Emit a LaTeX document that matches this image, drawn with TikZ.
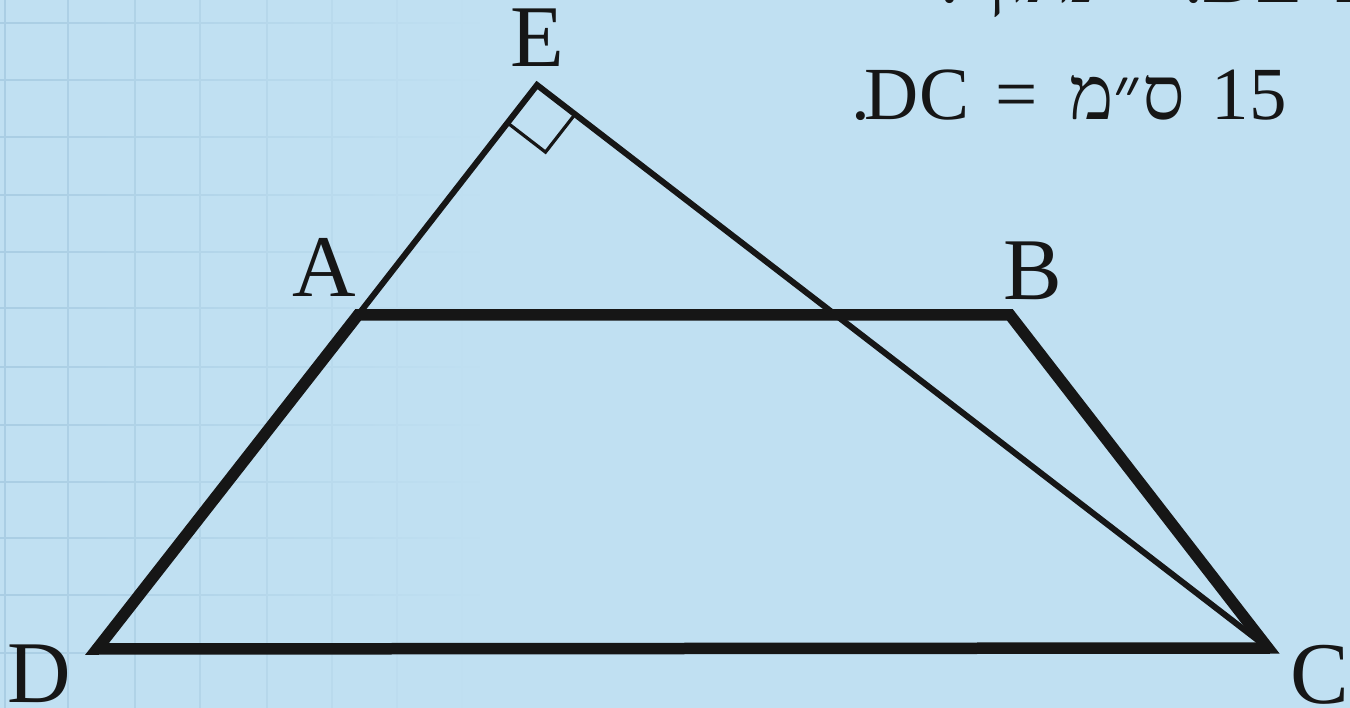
\documentclass[tikz,border=0pt]{standalone}
\usepackage{fontspec}
\setmainfont{Liberation Serif}
\newfontfamily\hebfont[Script=Hebrew]{Liberation Serif}
\TeXXeTstate=1
\usetikzlibrary{calc,fadings}
\definecolor{bg}{RGB}{192,224,242}
\definecolor{gridc}{RGB}{170,206,228}
\definecolor{ink}{RGB}{22,22,22}
\tikzfading[name=gridfade, left color=transparent!0, right color=transparent!100]
\begin{document}
\begin{tikzpicture}[x=1pt,y=-1pt,
  thickline/.style={line width=11.5pt, draw=ink, line join=miter, miter limit=30},
  thinline/.style={line width=6pt, draw=ink, line join=miter, miter limit=30},
  marker/.style={line width=3.2pt, draw=ink, line join=miter},
  lbl/.style={font=\fontsize{88}{100}\selectfont, text=ink, inner sep=0pt, anchor=base},
  txt/.style={font=\fontsize{75}{90}\selectfont, text=ink, inner sep=0pt, anchor=base},
  heb/.style={font=\hebfont\fontsize{75}{90}\selectfont, text=ink, inner sep=0pt, anchor=base},
  gridline/.style={draw=gridc, line width=2pt}]
\fill[bg] (0,0) rectangle (1350,708);
\useasboundingbox (0,0) rectangle (1350,708);
% faint grid on the left
\path[gridline, path fading=gridfade]
  foreach \x in {5,68,135,200,267,332,397,462} {(\x,0) -- (\x,708)}
  foreach \y in {23,80,137,195,252,308,367,425,482,538,595,653} {(0,\y) -- (480,\y)};
% points
\coordinate (D) at (97,649);
\coordinate (A) at (358,315);
\coordinate (B) at (1010,315);
\coordinate (C) at (1268,648);
\coordinate (E) at (537,85);
% trapezoid and triangle
\draw[thickline] (D) -- (A) -- (B) -- (C) -- cycle;
\draw[thinline] (A) -- (E) -- (C);
% right angle mark at E
\coordinate (r1) at ($(E)!48pt!(D)$);
\coordinate (r3) at ($(E)!48pt!(C)$);
\coordinate (r2) at ($(r1)+(r3)-(E)$);
\draw[marker] (r1) -- (r2) -- (r3);
% vertex labels
\node[lbl] (lE) at (537,67) {E};
\node[lbl] (lA) at (324,297) {A};
\node[lbl] (lB) at (1033,300) {B};
\node[lbl] (lD) at (39,702) {D};
\node[lbl] (lC) at (1320,703) {C};
% text, second line
\node[txt] (dot2) at (861,120) {.};
\node[txt] (DC) at (917,120) {DC};
\node[txt] (eq) at (1017,120) {=};
\node[heb] (cm) at (1127,120) {\beginR ס״מ\endR};
\node[txt] (n15) at (1249,120) {15};
% text, first line (cut off at the top)
\node[txt] (dot1) at (950,3) {.};
\node[heb] (ntn) at (1042,3) {\beginR נתון\endR};
\node[txt] (dot1b) at (1194,3) {.};
\node[txt] (DE) at (1252,3) {DE};
\node[txt] (A1) at (1364,3) {A};
\end{tikzpicture}
\end{document}
